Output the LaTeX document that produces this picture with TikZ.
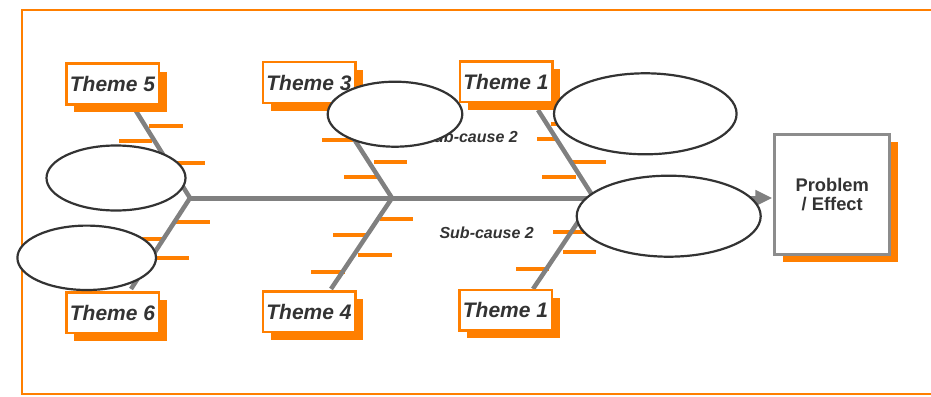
\documentclass[tikz,border=0pt]{standalone}
\usepackage{fontspec}
\setmainfont{Liberation Sans}
\usetikzlibrary{shapes.geometric,shadows,arrows.meta}
\definecolor{orng}{HTML}{FF7F00}
\definecolor{bone}{HTML}{808080}
\definecolor{txt}{HTML}{333333}
\definecolor{boxgray}{HTML}{8C8C8C}
\begin{document}
\begin{tikzpicture}[x=1pt,y=-1pt,
  themebox/.style={draw=orng, line width=2.5pt, fill=white,
    minimum width=92.5pt, minimum height=40.5pt, inner sep=0pt, text=txt,
    font=\bfseries\itshape\fontsize{21}{24}\selectfont,
    drop shadow={shadow xshift=8pt, shadow yshift=-8pt, fill=orng, opacity=1}},
  effectbox/.style={draw=boxgray, line width=2.5pt, fill=white,
    minimum width=115pt, minimum height=120pt, inner sep=0pt, text=txt,
    align=center, font=\bfseries\fontsize{18.3}{19.3}\selectfont,
    drop shadow={shadow xshift=8pt, shadow yshift=-7pt, fill=orng, opacity=1}},
  causeoval/.style={ellipse, draw=txt, line width=2.2pt, fill=white, inner sep=0pt},
  bonearm/.style={draw=bone, line width=4.5pt},
  spineline/.style={draw=bone, line width=5pt},
  tick/.style={draw=orng, line width=4pt},
  subcause/.style={text=txt, inner sep=0pt, font=\bfseries\itshape\fontsize{16}{18}\selectfont}]
\useasboundingbox (0,0) rectangle (931,396);
% outer frame
\draw[orng, line width=2pt] (22,10) rectangle (945,394);

% junctions on the spine and free ends of the bones
\coordinate (j1) at (190,198);
\coordinate (j2) at (392,198);
\coordinate (j3) at (594,198);
\coordinate (t5) at (136,111);
\coordinate (t6) at (131,289);
\coordinate (t3) at (336,111);
\coordinate (t4) at (331,289);
\coordinate (t1a) at (538,110);
\coordinate (t1b) at (533,289);

% sub-cause ticks
\foreach \xa/\xb/\yy in {149/183/126, 119/152/141, 176/205/163,
    176/210/222, 130/163/239, 157/189/258,
    322/355/140, 374/407/162, 344/377/177,
    380/413/219, 333/366/235, 358/392/255, 311/345/272,
    551/584/124, 537/555/139, 572/606/162, 542/576/177,
    553/586/232, 563/596/252, 516/549/269}
  \draw[tick] (\xa,\yy) -- (\xb,\yy);

% bones
\draw[bonearm] (t5) -- (j1) -- (t6);
\draw[bonearm] (t3) -- (j2) -- (t4);
\draw[bonearm] (t1a) -- (j3) -- (t1b);

% effect box and spine
\node[effectbox] (prob) at (832.2,194.7) {Problem\\/ Effect};
\draw[spineline, -{Triangle[length=17pt,width=15pt]}, shorten >=1pt] (j1) -- (j1 -| prob.west);

% sub-cause labels
\node[subcause, anchor=east] (sc1) at (518,137) {Sub-cause 2};
\node[subcause, anchor=east] (sc2) at (534,233) {Sub-cause 2};

% theme boxes
\node[themebox] (th5) at (112.5,84) {Theme 5};
\node[themebox] (th3) at (309,82.5) {Theme 3};
\node[themebox] (th1a) at (506,81.7) {Theme 1};
\node[themebox] (th6) at (112.5,312.5) {Theme 6};
\node[themebox] (th4) at (309,311.5) {Theme 4};
\node[themebox] (th1b) at (505.5,310) {Theme 1};

% cause ovals
\node[causeoval, minimum width=139pt, minimum height=65pt] (e1) at (116,178) {};
\node[causeoval, minimum width=138.6pt, minimum height=64.4pt] (e2) at (86.7,257.8) {};
\node[causeoval, minimum width=134.6pt, minimum height=65pt] (e3) at (395,114.2) {};
\node[causeoval, minimum width=182.6pt, minimum height=81pt] (e4) at (645.3,113.8) {};
\node[causeoval, minimum width=184pt, minimum height=81pt] (e5) at (668.7,216.2) {};
\end{tikzpicture}
\end{document}
